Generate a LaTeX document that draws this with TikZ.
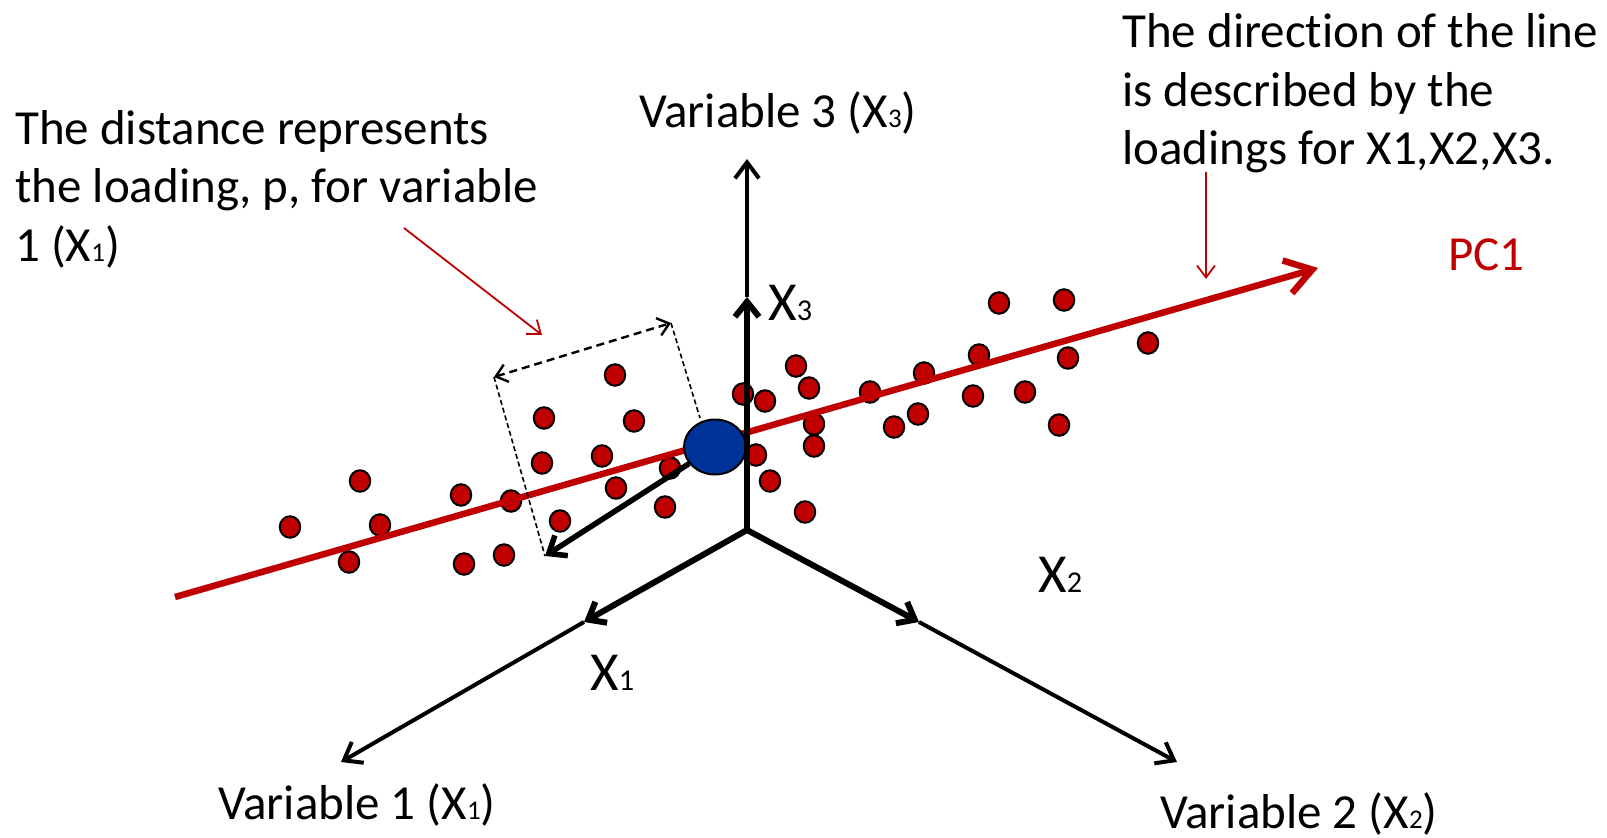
\documentclass[tikz,border=0pt]{standalone}
\usepackage{fontspec}
\setmainfont{Carlito}[Ligatures=NoCommon]
\usetikzlibrary{arrows.meta,shapes.geometric}
\definecolor{pcred}{RGB}{192,0,0}
\definecolor{cblue}{RGB}{0,51,153}
\newcommand\sbd[1]{\scalebox{0.55}{#1}}
\begin{document}
\begin{tikzpicture}[x=1pt,y=-1pt,
  txt/.style={font=\fontsize{49}{58}\selectfont, inner sep=0, anchor=base west},
  axl/.style={font=\fontsize{55}{60}\selectfont, inner sep=0, anchor=base west},
  dot/.style={ellipse, draw=black, line width=2pt, fill=pcred, minimum width=20.5pt, minimum height=21.5pt, inner sep=0},
  thickax/.style={line width=6pt, -{Straight Barb[length=15pt,width=24pt]}},
  thinax/.style={line width=4pt, -{Straight Barb[length=16pt,width=24pt]}},
  pcline/.style={line width=6.5pt, pcred, -{Straight Barb[length=26pt,width=34pt]}},
  note/.style={line width=1.8pt, pcred, -{Straight Barb[length=12pt,width=18pt]}},
  dasharrow/.style={line width=2.4pt, dash pattern=on 8pt off 5pt, {Straight Barb[length=11pt,width=18pt]}-{Straight Barb[length=11pt,width=18pt]}},
  dashside/.style={line width=1.6pt, dash pattern=on 5pt off 3pt},
  loadarrow/.style={line width=5.5pt, -{Straight Barb[length=15pt,width=24pt]}}
]
\useasboundingbox (0,0) rectangle (1607,838);
% coordinates
\coordinate (O) at (747,530);
\coordinate (M3) at (747,297);
\coordinate (T3) at (747,159);
\coordinate (M1) at (584,622);
\coordinate (E1) at (341,762);
\coordinate (M2) at (919,622);
\coordinate (E2) at (1177,762);
\coordinate (PCs) at (175,597);
\coordinate (PCe) at (1318,268);
\coordinate (A) at (494,377);
\coordinate (B) at (671,323);
\coordinate (C) at (545,556);
\coordinate (D) at (700,418);
\coordinate (a1s) at (404,228);
\coordinate (a1e) at (542,335);
\coordinate (a2s) at (1206,172);
\coordinate (a2e) at (1206,279);
% data points
\foreach \x/\y [count=\i] in {290/527,360/481,380/525,349/562,461/495,511/501,464/564,504/555,560/521,544/418,542/463,615/375,634/421,602/456,616/488,665/507,670/468,743/394,765/401,796/366,809/388,756/455,770/481,814/424,814/446,805/512,870/392,924/373,894/427,918/414,979/355,973/396,1025/392,999/303,1064/300,1068/358,1059/425,1148/343}
  \node[dot] (p\i) at (\x,\y) {};
% PC1 line
\draw[pcline] (PCs) -- (PCe);
% mean point
\node[ellipse, draw=black, line width=2pt, fill=cblue, minimum width=62pt, minimum height=55pt, inner sep=0] (ell) at (715,447) {};
% axes
\draw[thickax] (O) -- (M3);
\draw[thinax] (M3) -- (T3);
\draw[thickax] (O) -- (M1);
\draw[thinax] (M1) -- (E1);
\draw[thickax] (O) -- (M2);
\draw[thinax] (M2) -- (E2);
% loading box
\draw[loadarrow] (ell) -- (C);
\draw[dasharrow] (A) -- (B);
\draw[dashside] (A) -- (C);
\draw[dashside] (B) -- (D);
% annotation arrows
\draw[note] (a1s) -- (a1e);
\draw[note] (a2s) -- (a2e);
% texts
\node[txt] (d1) at (15,144) {The distance represents};
\node[txt] (d2) at (15,202) {the loading, p, for variable};
\node[txt] (d3) at (15,261) {1 (X\sbd{1})};
\node[txt] (r1) at (1122,47) {The direction of the line};
\node[txt] (r2) at (1122,106) {is described by the};
\node[txt] (r3) at (1122,164) {loadings for X1,X2,X3.};
\node[txt] (v3) at (639,127) {Variable 3 (X\sbd{3})};
\node[txt] (v1) at (218,819) {Variable 1 (X\sbd{1})};
\node[txt] (v2) at (1160,828) {Variable 2 (X\sbd{2})};
\node[txt, text=pcred] (pc) at (1448,270) {PC1};
\node[axl] (x3) at (768,320) {X\sbd{3}};
\node[axl] (x2) at (1038,592) {X\sbd{2}};
\node[axl] (x1) at (590,690) {X\sbd{1}};
\end{tikzpicture}
\end{document}
